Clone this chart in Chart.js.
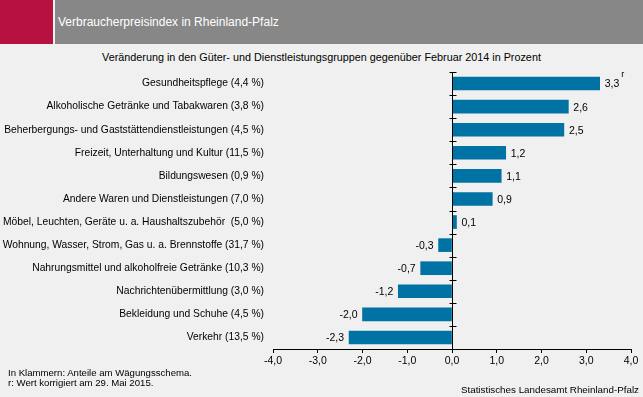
<!DOCTYPE html>
<html lang="de">
<head>
<meta charset="utf-8">
<script src="https://cdn.jsdelivr.net/npm/chart.js@4/dist/chart.umd.min.js"></script>
<style>
  html, body { margin: 0; padding: 0; }
  body {
    width: 643px; height: 397px; position: relative; overflow: hidden;
    background: #eff0ef; font-family: "Liberation Sans", Arial, sans-serif;
  }
  .red { position: absolute; left: 0; top: 0; width: 53px; height: 44px; background: #b7123f; }
  .band { position: absolute; left: 55px; top: 0; width: 588px; height: 44px; background: #878787; }
  .band span { position: absolute; left: 3px; top: 15px; font-size: 12px; color: #fff; }
  .title { position: absolute; left: 0; width: 643px; top: 51px; text-align: center; font-size: 10.8px; color: #000; }
  .note { position: absolute; left: 8px; top: 368px; font-size: 9.6px; line-height: 10px; color: #000; }
  .source { position: absolute; right: 4px; top: 384px; font-size: 9.8px; color: #000; }
  #wrap { position: absolute; left: 0; top: 0; width: 643px; height: 397px; }
</style>
</head>
<body>
<div class="red"></div>
<div class="band"><span>Verbraucherpreisindex in Rheinland-Pfalz</span></div>
<div class="title">Veränderung in den Güter- und Dienstleistungsgruppen gegenüber Februar 2014 in Prozent</div>
<div id="wrap"><canvas id="chart"></canvas></div>
<div class="note">In Klammern: Anteile am Wägungsschema.<br>r: Wert korrigiert am 29. Mai 2015.</div>
<div class="source">Statistisches Landesamt Rheinland-Pfalz</div>

<script>
// Daten
const categories = [
  'Gesundheitspflege (4,4 %)',
  'Alkoholische Getränke und Tabakwaren (3,8 %)',
  'Beherbergungs- und Gaststättendienstleistungen (4,5 %)',
  'Freizeit, Unterhaltung und Kultur (11,5 %)',
  'Bildungswesen (0,9 %)',
  'Andere Waren und Dienstleistungen (7,0 %)',
  'Möbel, Leuchten, Geräte u. a. Haushaltszubehör  (5,0 %)',
  'Wohnung, Wasser, Strom, Gas u. a. Brennstoffe (31,7 %)',
  'Nahrungsmittel und alkoholfreie Getränke (10,3 %)',
  'Nachrichtenübermittlung (3,0 %)',
  'Bekleidung und Schuhe (4,5 %)',
  'Verkehr (13,5 %)'
];
const changes = [3.3, 2.6, 2.5, 1.2, 1.1, 0.9, 0.1, -0.3, -0.7, -1.2, -2.0, -2.3];
const corrected = [true, false, false, false, false, false, false, false, false, false, false, false];
const xTicks = [-4, -3, -2, -1, 0, 1, 2, 3, 4];

const FONT = '"Liberation Sans", Arial, sans-serif';
const fmt = v => v.toFixed(1).replace('.', ',');

// Nulllinie mit Teilstrichen und Wertbeschriftungen
const zeroAxisPlugin = {
  id: 'zeroAxis',
  afterDatasetsDraw(chart) {
    const { ctx, chartArea, scales } = chart;
    const x0 = Math.round(scales.x.getPixelForValue(0)) + 0.5;
    const step = scales.y.getPixelForValue(1) - scales.y.getPixelForValue(0);
    ctx.save();
    ctx.strokeStyle = '#000';
    ctx.lineWidth = 1;
    ctx.beginPath();
    ctx.moveTo(x0, chartArea.top);
    ctx.lineTo(x0, chartArea.bottom);
    for (let i = 0; i < categories.length; i++) {
      const yb = Math.round(scales.y.getPixelForValue(i) - step / 2) + 0.5;
      ctx.moveTo(x0 - 3, yb);
      ctx.lineTo(x0 + 4, yb);
    }
    ctx.stroke();

    // Wertbeschriftungen
    const meta = chart.getDatasetMeta(0);
    ctx.fillStyle = '#000';
    ctx.font = '10.5px ' + FONT;
    ctx.textBaseline = 'middle';
    meta.data.forEach((bar, i) => {
      const v = changes[i];
      const text = fmt(v);
      if (v >= 0) {
        ctx.textAlign = 'left';
        ctx.fillText(text, bar.x + 5, bar.y + 1);
        if (corrected[i]) {
          const w = ctx.measureText(text).width;
          ctx.font = '9px ' + FONT;
          ctx.fillText('r', bar.x + 5 + w + 2, bar.y - 9);
          ctx.font = '10.5px ' + FONT;
        }
      } else {
        ctx.textAlign = 'right';
        ctx.fillText(text, bar.x - 5, bar.y + 1);
      }
    });
    ctx.restore();
  }
};

new Chart(document.getElementById('chart'), {
  type: 'bar',
  data: {
    labels: categories,
    datasets: [{
      data: changes,
      backgroundColor: '#0072a3',
      borderWidth: 0,
      barThickness: 13
    }]
  },
  options: {
    indexAxis: 'y',
    responsive: true,
    maintainAspectRatio: false,
    animation: false,
    layout: { padding: { top: 72, right: 12, bottom: 28, left: 0 } },
    plugins: {
      legend: { display: false },
      tooltip: { enabled: false }
    },
    scales: {
      x: {
        min: -4,
        max: 4,
        afterBuildTicks: scale => { scale.ticks = xTicks.map(v => ({ value: v })); },
        afterFit: scale => { scale.height = 20; },
        border: { display: true, color: '#000', width: 1 },
        grid: { drawOnChartArea: false, color: '#000', tickLength: 4 },
        ticks: {
          color: '#000',
          padding: 2,
          font: { family: FONT, size: 10.5 },
          callback: v => fmt(v)
        }
      },
      y: {
        afterFit: scale => { scale.width = 273; },
        border: { display: false },
        grid: { display: false, drawTicks: false },
        ticks: {
          color: '#000',
          padding: 9,
          font: { family: FONT, size: 10.3 }
        }
      }
    }
  },
  plugins: [zeroAxisPlugin]
});
</script>
</body>
</html>
